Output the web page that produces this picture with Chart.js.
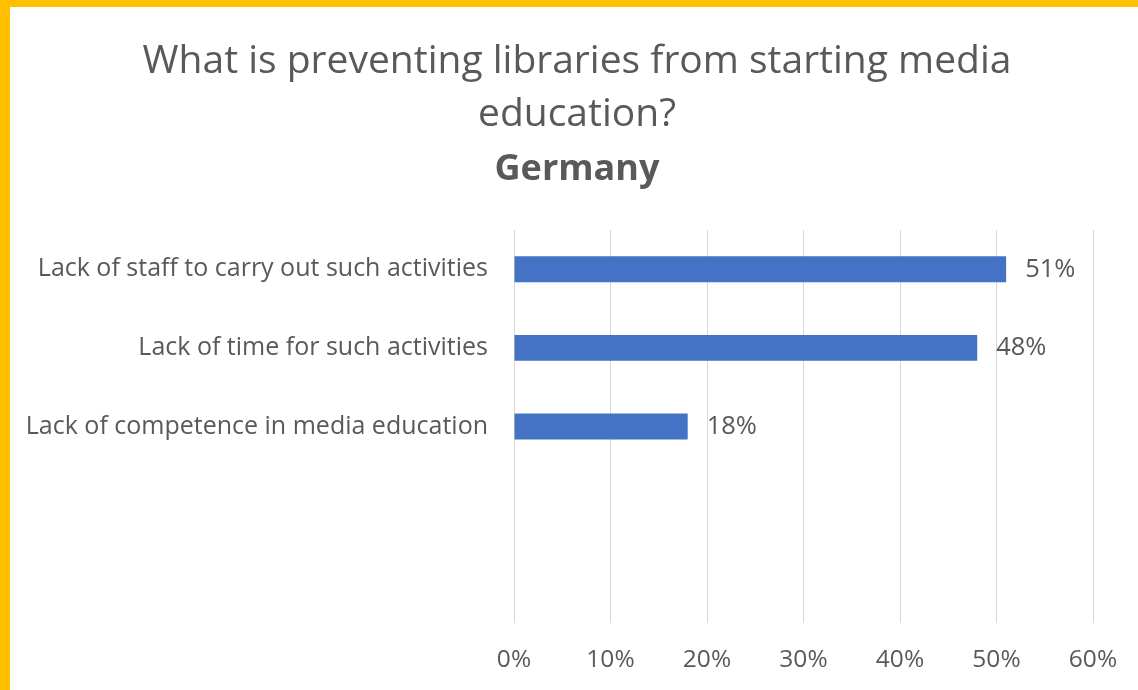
<!DOCTYPE html>
<html>
<head>
<meta charset="utf-8">
<script src="https://cdn.jsdelivr.net/npm/chart.js@4"></script>
<style>
  html, body { margin: 0; padding: 0; }
  body { width: 1138px; height: 690px; background: #FFC000; position: relative; overflow: hidden; }
  #frame { position: absolute; left: 10px; top: 7px; width: 1128px; height: 683px; background: #fff; }
  canvas { display: block; }
</style>
</head>
<body>
<div id="frame"><canvas id="chart" width="1128" height="683"></canvas></div>
<script>
// Survey answers (share of libraries); the two trailing rows are empty slots
const categories = [
  'Lack of staff to carry out such activities',
  'Lack of time for such activities',
  'Lack of competence in media education',
  '',
  ''
];
const shares = [0.51, 0.48, 0.18, null, null];
const tickValues = [0, 0.1, 0.2, 0.3, 0.4, 0.5, 0.6];
const titleLines = ['What is preventing libraries from starting media', 'education?'];
const subtitleText = 'Germany';

const TEXT = '#595959';
const FONT = '"Open Sans", Lato, sans-serif';
const pct = v => Math.round(v * 100) + '%';

// Value labels placed just past the end of each bar
const barValueLabels = {
  id: 'barValueLabels',
  afterDatasetsDraw(chart) {
    const ctx = chart.ctx;
    const meta = chart.getDatasetMeta(0);
    ctx.save();
    ctx.font = '25.5px ' + FONT;
    ctx.fillStyle = TEXT;
    ctx.textAlign = 'left';
    ctx.textBaseline = 'middle';
    meta.data.forEach((bar, i) => {
      const v = shares[i];
      if (v == null) return;
      ctx.fillText(pct(v), bar.x + 19, bar.y);
    });
    ctx.restore();
  }
};

new Chart(document.getElementById('chart'), {
  type: 'bar',
  data: {
    labels: categories,
    datasets: [{
      data: shares,
      backgroundColor: '#4472C4',
      borderWidth: 0,
      categoryPercentage: 1,
      barPercentage: 0.33
    }]
  },
  options: {
    indexAxis: 'y',
    responsive: false,
    animation: false,
    layout: { padding: { left: 6, right: 0, top: 0, bottom: 0 } },
    plugins: {
      legend: { display: false },
      tooltip: { enabled: false },
      title: {
        display: true,
        text: titleLines,
        color: TEXT,
        font: { family: FONT, size: 39, weight: 'normal', lineHeight: 53 / 39 },
        padding: { top: 28, bottom: 0 }
      },
      subtitle: {
        display: true,
        text: subtitleText,
        color: TEXT,
        font: { family: FONT, size: 36, weight: 'bold', lineHeight: 1.2 },
        padding: { top: 7, bottom: 38.8 }
      }
    },
    scales: {
      x: {
        min: 0,
        max: 0.6,
        afterBuildTicks(scale) {
          scale.ticks = tickValues.map(v => ({ value: v }));
        },
        afterFit(scale) {
          scale.height = 67;
          scale.paddingRight = 45;
        },
        grid: { color: '#d9d9d9', lineWidth: 1, drawTicks: false },
        border: { display: false },
        ticks: {
          color: TEXT,
          padding: 22,
          font: { family: FONT, size: 24.5 },
          callback: v => pct(v)
        }
      },
      y: {
        afterFit(scale) { scale.width = 498; },
        grid: { display: false, drawTicks: false },
        border: { display: false },
        ticks: {
          color: TEXT,
          padding: 26,
          font: { family: FONT, size: 25 }
        }
      }
    }
  },
  plugins: [barValueLabels]
});
</script>
</body>
</html>
